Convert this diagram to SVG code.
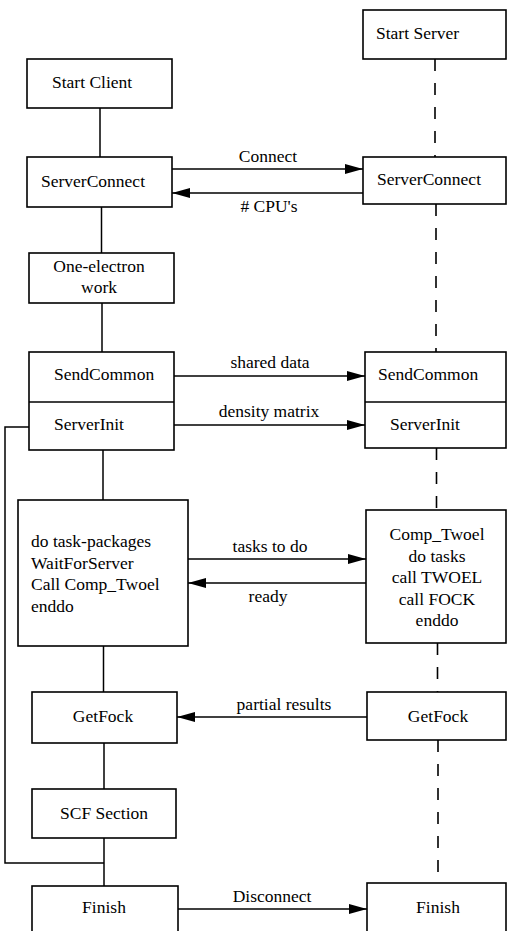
<svg xmlns="http://www.w3.org/2000/svg" width="507" height="931" viewBox="0 0 507 931">
<defs>
<style>
.box{fill:#fff;stroke:#000;stroke-width:1.6}
.t{font-family:"Liberation Serif","Times New Roman",serif;font-size:17.5px;fill:#000}
.c{text-anchor:middle}
.ln{fill:none;stroke:#000;stroke-width:1.5}
.dash{fill:none;stroke:#000;stroke-width:1.6;stroke-dasharray:12 12}
.arr{fill:none;stroke:#000;stroke-width:1.5;marker-end:url(#ah)}
</style>
<marker id="ah" viewBox="0 0 18 10" refX="18" refY="5" markerWidth="18" markerHeight="10" markerUnits="userSpaceOnUse" orient="auto">
<path d="M0,0 L18,5 L0,10 Z" fill="#000"/>
</marker>
</defs>
<rect width="507" height="931" fill="#fff"/>
<g id="connectors">
<line class="ln" x1="100" y1="108" x2="100" y2="157"/>
<line class="ln" x1="101.5" y1="207" x2="101.5" y2="253"/>
<line class="ln" x1="102" y1="303" x2="102" y2="352"/>
<line class="ln" x1="103" y1="450" x2="103" y2="500"/>
<line class="ln" x1="103.5" y1="646" x2="103.5" y2="692"/>
<line class="ln" x1="104" y1="743" x2="104" y2="789"/>
<line class="ln" x1="104" y1="838" x2="104" y2="886"/>
<polyline class="ln" points="29,427 5,427 5,863 104,863"/>
<line class="dash" x1="435" y1="59" x2="435" y2="157"/>
<line class="dash" x1="436" y1="204" x2="436" y2="352"/>
<line class="dash" x1="436.5" y1="448" x2="436.5" y2="510"/>
<line class="dash" x1="437.5" y1="643" x2="437.5" y2="692"/>
<line class="dash" x1="438" y1="740" x2="438" y2="872"/>
<line class="arr" x1="172" y1="169" x2="363" y2="169"/>
<text class="t c" x="268" y="162">Connect</text>
<line class="arr" x1="363" y1="193" x2="172" y2="193"/>
<text class="t c" x="269" y="212"># CPU's</text>
<line class="arr" x1="174" y1="376" x2="365" y2="376"/>
<text class="t c" x="270" y="368">shared data</text>
<line class="arr" x1="174" y1="425" x2="365" y2="425"/>
<text class="t c" x="269" y="417">density matrix</text>
<line class="arr" x1="188" y1="559" x2="366" y2="559"/>
<text class="t c" x="270" y="552">tasks to do</text>
<line class="arr" x1="366" y1="583" x2="188" y2="583"/>
<text class="t c" x="268" y="602">ready</text>
<line class="arr" x1="367" y1="717" x2="177" y2="717"/>
<text class="t c" x="284" y="710">partial results</text>
<line class="arr" x1="178" y1="909" x2="367" y2="909"/>
<text class="t c" x="272" y="902">Disconnect</text>
</g>
<g id="start-server">
<rect class="box" x="363" y="10" width="143" height="49"/>
<text class="t" x="376" y="39">Start Server</text>
</g>
<g id="start-client">
<rect class="box" x="27" y="59" width="145" height="49"/>
<text class="t" x="52" y="88">Start Client</text>
</g>
<g id="serverconnect-client">
<rect class="box" x="27" y="157" width="145" height="50"/>
<text class="t" x="41" y="187">ServerConnect</text>
</g>
<g id="serverconnect-server">
<rect class="box" x="363" y="157" width="143" height="47"/>
<text class="t" x="377" y="185">ServerConnect</text>
</g>
<g id="one-electron">
<rect class="box" x="29" y="253" width="145" height="50"/>
<text class="t c" x="99" y="272">One-electron</text>
<text class="t c" x="99" y="293">work</text>
</g>
<g id="client-init">
<rect class="box" x="29" y="352" width="145" height="98"/>
<line class="ln" x1="29" y1="402" x2="174" y2="402"/>
<text class="t" x="54" y="380">SendCommon</text>
<text class="t" x="54" y="430">ServerInit</text>
</g>
<g id="server-init">
<rect class="box" x="365" y="352" width="141" height="96"/>
<line class="ln" x1="365" y1="402" x2="506" y2="402"/>
<text class="t" x="378" y="380">SendCommon</text>
<text class="t" x="390" y="430">ServerInit</text>
</g>
<g id="task-loop">
<rect class="box" x="18" y="500" width="170" height="146"/>
<text class="t" x="31" y="547">do task-packages</text>
<text class="t" x="31" y="568.5">WaitForServer</text>
<text class="t" x="31" y="590">Call Comp_Twoel</text>
<text class="t" x="31" y="611.5">enddo</text>
</g>
<g id="comp-twoel">
<rect class="box" x="366" y="510" width="140" height="133"/>
<text class="t c" x="437" y="540">Comp_Twoel</text>
<text class="t c" x="437" y="561.5">do tasks</text>
<text class="t c" x="437" y="583">call TWOEL</text>
<text class="t c" x="437" y="604.5">call FOCK</text>
<text class="t c" x="437" y="626">enddo</text>
</g>
<g id="getfock-client">
<rect class="box" x="32" y="692" width="145" height="51"/>
<text class="t c" x="103" y="722">GetFock</text>
</g>
<g id="getfock-server">
<rect class="box" x="367" y="692" width="139" height="48"/>
<text class="t c" x="438" y="722">GetFock</text>
</g>
<g id="scf-section">
<rect class="box" x="32" y="789" width="144" height="49"/>
<text class="t c" x="104" y="819">SCF Section</text>
</g>
<g id="finish-client">
<rect class="box" x="32" y="886" width="146" height="60"/>
<text class="t c" x="104" y="913">Finish</text>
</g>
<g id="finish-server">
<rect class="box" x="367" y="883" width="139" height="60"/>
<text class="t c" x="438" y="913">Finish</text>
</g>
</svg>
